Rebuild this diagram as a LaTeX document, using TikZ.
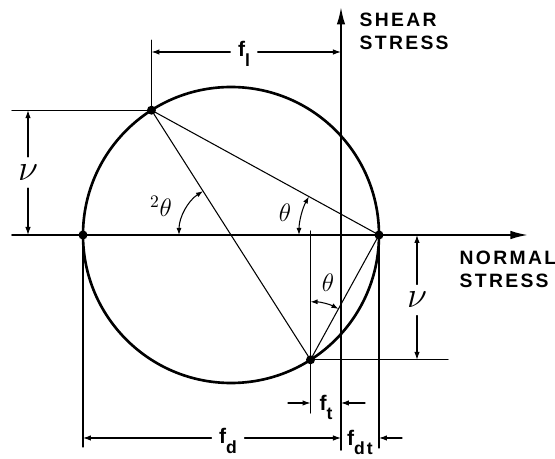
\documentclass[tikz,border=0pt]{standalone}
\usepackage{fontspec}
\setsansfont{Liberation Sans}[LetterSpace=12]
\usetikzlibrary{arrows.meta}

\newcommand{\dimsub}[1]{\raisebox{-0.45em}{\fontsize{10}{10}\selectfont #1}}

\tikzset{
	axisline/.style={line width=1.1pt, -{Latex[length=3.5mm,width=1.7mm]}},
	thinline/.style={line width=0.6pt},
	dimline/.style={line width=0.6pt, -{Latex[length=1.6mm,width=1.1mm]}},
	anglearc/.style={line width=0.6pt, {Latex[length=1.4mm,width=1mm]}-{Latex[length=1.4mm,width=1mm]}},
	dimlabel/.style={font=\sffamily\bfseries\fontsize{12}{13}\selectfont, inner sep=4pt},
	axislabel/.style={font=\sffamily\bfseries\fontsize{11}{13}\selectfont, align=left, anchor=west, inner sep=0pt},
	thetalabel/.style={font=\Large, inner sep=1pt},
	nulabel/.style={font=\fontsize{22}{22}\selectfont, inner sep=4pt}
}

\begin{document}
\begin{tikzpicture}[line width=0.8pt, line cap=round]
	\useasboundingbox (-4.62,-4.48) rectangle (6.48,4.7);

	% Mohr-Kreis: Mittelpunkt, Achsenpunkte, Spannungspunkte
	\coordinate (C) at (0,0);
	\coordinate (L) at (180:2.96);
	\coordinate (R) at (0:2.96);
	\coordinate (A) at (122.5:2.96);
	\coordinate (B) at (-57.5:2.96);
	\coordinate (O) at (2.2,0);

	% Achsen
	\draw[axisline] (-4.38,0) -- (5.94,0);
	\draw[axisline] (O) ++(0,-4.3) -- (2.2,4.56);
	\node[axislabel] (shear) at (2.56,4.07) {SHEAR\\STRESS};
	\node[axislabel] (normal) at (4.56,-0.68) {NORMAL\\STRESS};

	% Kreis, Sehnen und Punkte
	\draw[line width=1.5pt] (C) circle (2.96);
	\draw[thinline] (A) -- (B) -- (R) -- cycle;
	\foreach \p in {L,R,A,B}
		\fill (\p) circle (0.09);

	% Hilfslinien
	\draw[thinline] (A) -- ++(0,1.40);
	\draw[thinline] (A) -- ++(-2.79,0);
	\draw[thinline] (B) -- ++(2.75,0);
	\draw[thinline] (B |- 0,0.08) -- (B |- 0,-3.56);
	\draw[thinline] (L) -- ++(0,-4.24);
	\draw[thinline] (R) -- ++(0,-4.26);

	% Bemassung oben und links/rechts
	\node[dimlabel] (fl) at (0.26,3.62) {f\dimsub{l}};
	\draw[dimline] (fl.west |- 0,3.66) -- (A |- 0,3.66);
	\draw[dimline] (fl.east |- 0,3.66) -- (O |- 0,3.66);
	\node[nulabel] (nuA) at (-4.06,1.25) {$\nu$};
	\draw[dimline] (nuA) -- (nuA |- A);
	\draw[dimline] (nuA) -- (nuA |- C);
	\node[nulabel] (nuB) at (3.72,-1.3) {$\nu$};
	\draw[dimline] (nuB) -- (nuB |- C);
	\draw[dimline] (nuB) -- (nuB |- B);

	% Bemassung unten
	\node[dimlabel, inner sep=1pt] (ft) at (1.9,-3.45) {f\dimsub{t}};
	\coordinate (ftl) at (1.14,-3.36);
	\coordinate (ftr) at (2.68,-3.36);
	\draw[dimline] (ftl) -- (B |- ftl);
	\draw[dimline] (ftr) -- (O |- ftr);
	\node[dimlabel] (fd) at (-0.06,-4.12) {f\dimsub{d}};
	\draw[dimline] (fd.west |- 0,-4.06) -- (L |- 0,-4.06);
	\draw[dimline] (fd.east |- 0,-4.06) -- (O |- 0,-4.06);
	\node[dimlabel, inner sep=0pt] (fdt) at (2.58,-4.15) {f\dimsub{dt}};
	\coordinate (fdtr) at (3.42,-4.06);
	\draw[dimline] (fdtr) -- (R |- fdtr);

	% Winkel
	\draw[anglearc] (C) ++(122.5:1.04) arc[start angle=122.5, end angle=180, radius=1.04];
	\draw[anglearc] (R) ++(151.25:1.6) arc[start angle=151.25, end angle=180, radius=1.6];
	\draw[anglearc] (B) ++(61.25:1.16) arc[start angle=61.25, end angle=90, radius=1.16];
	\node[thetalabel] (twotheta) at (-1.4,0.58) {${}^2\theta$};
	\node[thetalabel] (thetaR) at (1.08,0.44) {$\theta$};
	\node[thetalabel] (thetaB) at (1.94,-0.96) {$\theta$};
\end{tikzpicture}
\end{document}
